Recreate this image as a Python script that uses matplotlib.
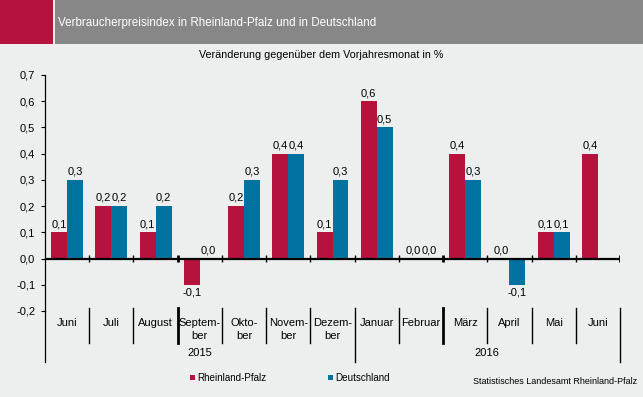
import matplotlib.pyplot as plt
from matplotlib.patches import Rectangle
import numpy as np

months = ["Juni", "Juli", "August", "Septem-\nber", "Okto-\nber", "Novem-\nber",
          "Dezem-\nber", "Januar", "Februar", "März", "April", "Mai", "Juni"]
rlp = [0.1, 0.2, 0.1, -0.1, 0.2, 0.4, 0.1, 0.6, 0.0, 0.4, 0.0, 0.1, 0.4]
de = [0.3, 0.2, 0.2, 0.0, 0.3, 0.4, 0.3, 0.5, 0.0, 0.3, -0.1, 0.1, None]
yticks = [-0.2, -0.1, 0.0, 0.1, 0.2, 0.3, 0.4, 0.5, 0.6, 0.7]

RED = "#B5123E"
BLUE = "#0072A0"
BG = "#EDEEEE"
W, H = 643, 397

plt.rcParams['font.family'] = ['Liberation Sans', 'DejaVu Sans']
plt.rcParams['font.size'] = 8

fig = plt.figure(figsize=(W / 100, H / 100), dpi=100, facecolor=BG)

def fx(px):
    return px / W

def fy(py):
    return 1 - py / H

# header band
fig.patches.append(Rectangle((0, fy(44)), fx(53), 44 / H, transform=fig.transFigure,
                             facecolor=RED, edgecolor="none"))
fig.patches.append(Rectangle((fx(55), fy(44)), 1 - fx(55), 44 / H, transform=fig.transFigure,
                             facecolor="#878787", edgecolor="none"))
fig.text(fx(58), fy(23), "Verbraucherpreisindex in Rheinland-Pfalz und in Deutschland",
         color="white", fontsize=8.4, va="center", ha="left")
fig.text(fx(321), fy(55), "Veränderung gegenüber dem Vorjahresmonat in %",
         fontsize=7.75, ha="center", va="center")

ax = fig.add_axes([fx(45), fy(311), fx(620) - fx(45), (311 - 75) / H])
ax.set_facecolor(BG)

x = np.arange(len(months))
bw = 0.36
ax.bar(x - bw / 2, rlp, bw, color=RED, zorder=2)
de_x = [xi + bw / 2 for xi, v in zip(x, de) if v is not None]
de_v = [v for v in de if v is not None]
ax.bar(de_x, de_v, bw, color=BLUE, zorder=2)

def fmt(v):
    return f"{v:.1f}".replace(".", ",")

for xi, v in zip(x, rlp):
    off = 0.012 if v >= 0 else -0.012
    ax.text(xi - bw / 2, v + off, fmt(v), ha="center",
            va="bottom" if v >= 0 else "top", fontsize=8)
for xi, v in zip(de_x, de_v):
    off = 0.012 if v >= 0 else -0.012
    ax.text(xi, v + off, fmt(v), ha="center",
            va="bottom" if v >= 0 else "top", fontsize=8)

ax.set_xlim(-0.5, len(months) - 0.5)
ax.set_ylim(-0.2, 0.7)
ax.set_yticks(yticks)
ax.set_yticklabels([fmt(v) for v in yticks])
ax.tick_params(axis="y", length=3, width=0.8, pad=4)
ax.set_xticks([])
for s in ["top", "right", "bottom"]:
    ax.spines[s].set_visible(False)
ax.spines["left"].set_linewidth(0.9)

# zero line with ticks
ax.axhline(0, color="black", lw=1.6, zorder=3)
tr = ax.get_xaxis_transform()
for b in range(1, len(months) + 1):
    thick = b in (3, 9, 13)
    ax.vlines(b - 0.5, -0.015, 0.015, color="black", lw=2 if thick else 1, zorder=3)

# category labels and separators
for b in range(1, len(months)):
    lo = -0.216 if b == 7 else -0.136
    ax.plot([b - 0.5, b - 0.5], [0.013, lo], transform=tr, color="black",
            lw=2 if b in (3, 9) else 1, clip_on=False)
ax.plot([12.5, 12.5], [0.013, -0.216], transform=tr, color="black", lw=1, clip_on=False)
ax.plot([-0.5, -0.5], [0, -0.216], transform=tr, color="black", lw=0.9, clip_on=False)

for xi, m in zip(x, months):
    if "\n" in m:
        a, b2 = m.split("\n")
        ax.text(xi, -0.051, a, transform=tr, ha="center", va="center", fontsize=8)
        ax.text(xi, -0.106, b2, transform=tr, ha="center", va="center", fontsize=8)
    else:
        ax.text(xi, -0.051, m, transform=tr, ha="center", va="center", fontsize=8)

ax.text(3.0, -0.178, "2015", transform=tr, ha="center", va="center", fontsize=8)
ax.text(9.5, -0.178, "2016", transform=tr, ha="center", va="center", fontsize=8)

# legend
for px, col, lab in [(190, RED, "Rheinland-Pfalz"), (328, BLUE, "Deutschland")]:
    fig.patches.append(Rectangle((fx(px), fy(380)), fx(5), 5 / H, transform=fig.transFigure,
                                 facecolor=col, edgecolor="none"))
    fig.text(fx(px + 7), fy(378), lab, fontsize=7.1, va="center", ha="left")

fig.text(fx(637), fy(381), "Statistisches Landesamt Rheinland-Pfalz", fontsize=6.5,
         ha="right", va="center")

fig.savefig("out.png", dpi=100, facecolor=BG)
